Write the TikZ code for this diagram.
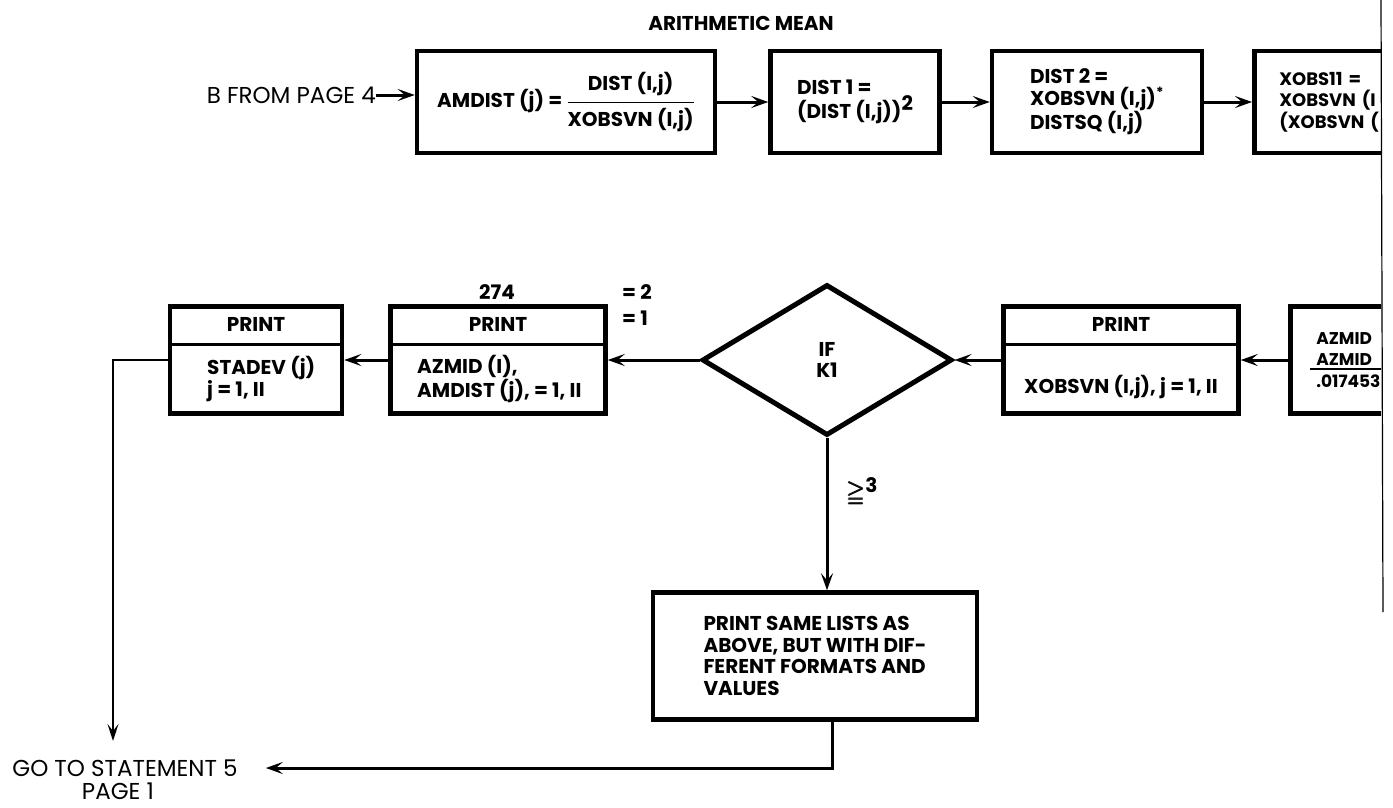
\documentclass[tikz,border=0pt]{standalone}
\usepackage{amsmath, amssymb}
\usepackage{fontspec}
\setmainfont{Poppins}
\usetikzlibrary{positioning, shapes.geometric, arrows.meta, calc}

\begin{document}
\begin{tikzpicture}[x=1pt, y=-1pt,
    every node/.style={font=\bfseries\fontsize{20}{21.5}\selectfont, inner sep=0pt},
    plaintext/.style={font=\mdseries\fontsize{23}{24}\selectfont},
    box/.style={draw, line width=4.5pt, minimum height=102pt, align=left},
    pbox/.style={draw, line width=4.5pt, minimum height=107pt},
    link/.style={line width=3pt, -{Stealth[length=17pt, width=12pt, inset=7pt]}},
    thinlink/.style={line width=2pt, -{Stealth[length=17pt, width=11pt, inset=7pt]}}]
    \useasboundingbox (0,0) rectangle (1393,807);
    \begin{scope}
    \clip (0,0) rectangle (1381,807);

    % Title
    \node (title) at (741,23) {ARITHMETIC MEAN};

    % Top row - arithmetic mean steps
    \node[plaintext, anchor=east] (from4) at (376,95) {B FROM PAGE 4};
    \node[box, minimum width=298pt] (amdist) at (566,102)
        {AMDIST (j) = $\dfrac{\text{DIST (I,j)}\rule[-9pt]{0pt}{0pt}}{\rule{0pt}{21pt}\text{XOBSVN (I,j)}}$};
    \node[box, minimum width=169pt] (dist1) at (855,102) {DIST 1 =\\(DIST (I,j))\raisebox{8pt}{2}};
    \node[box, minimum width=210pt] (dist2) at (1097,102) {DIST 2 =\\XOBSVN (I,j)\textsuperscript{*}\\DISTSQ (I,j)};
    \node[box, anchor=west, text width=200pt, inner xsep=25pt, font=\bfseries\fontsize{18}{21.5}\selectfont] (xobs) at (1252,102) {XOBS11 =\\XOBSVN (I\\(XOBSVN (};

    \draw[link] (from4.east) -- (from4.east -| amdist.west);
    \draw[link] (amdist) -- (dist1);
    \draw[link] (dist1) -- (dist2);
    \draw[link] (dist2) -- (xobs);

    % Middle row - print boxes and test on K1
    \node[pbox, minimum width=172pt] (stadev) at (256,360) {};
    \node[pbox, minimum width=215pt] (azmid) at (498,360) {};
    \node[diamond, draw, line width=5pt, minimum width=250pt, minimum height=151pt, align=center] (ifk) at (827,360) {IF\\K1};
    \node[pbox, minimum width=235pt] (printx) at (1121,360) {};
    \node[pbox, anchor=west, text width=160pt, inner xsep=26pt, align=left, font=\bfseries\fontsize{17}{21.5}\selectfont] (azright) at (1288,360) {AZMID\\AZMID\\.017453};
    \draw[line width=1.5pt] ($(azright.west)+(22,9)$) -- ($(azright.east)+(0,9)$);

    \foreach \b in {stadev, azmid, printx} {
        \draw[line width=3pt] ($(\b.north west)+(0,40)$) -- ($(\b.north east)+(0,40)$);
        \node (\b-head) at ($(\b.north)+(0,20)$) {PRINT};
    }
    \node[anchor=west, align=left] (stadev-body) at (207,379) {STADEV (j)\\j = 1, II};
    \node[anchor=west, align=left] (azmid-body) at (417,379) {AZMID (I),\\AMDIST (j), = 1, II};
    \node (printx-body) at (1121,387) {XOBSVN (I,j), j = 1, II};

    \node (num) at (497,292) {274};
    \node[anchor=west] (eq2) at (622,292) {= 2};
    \node[anchor=west] (eq1) at (622,318) {= 1};

    \draw[link] (azright) -- (printx);
    \draw[link] (printx) -- (ifk);
    \draw[link] (ifk) -- (azmid);
    \draw[link] (azmid) -- (stadev);

    % Bottom - other formats and exit
    \node[box, minimum width=324pt, minimum height=127pt] (same) at (815,656)
        {PRINT SAME LISTS AS\\ABOVE, BUT WITH DIF-\\FERENT FORMATS AND\\VALUES};
    \node (ge3) at (862,492) {{\fontsize{24}{24}\selectfont\pmb{$\geqq$}}\raisebox{8pt}{3}};
    \node[plaintext] (goto) at (125,768) {GO TO STATEMENT 5};
    \node[plaintext] (page1) at (118,791) {PAGE 1};
    \coordinate (down) at (113,741);

    \draw[link] (ifk.south) -- (ifk.south |- same.north);
    \draw[thinlink] (stadev.west) -| (down);
    \draw[link, shorten >=28pt] ($(same.south)+(17,0)$) |- (goto.east);
    \end{scope}

    % page edge
    \draw[line width=1.2pt] (1381,0) -- (1383,612);
\end{tikzpicture}
\end{document}
